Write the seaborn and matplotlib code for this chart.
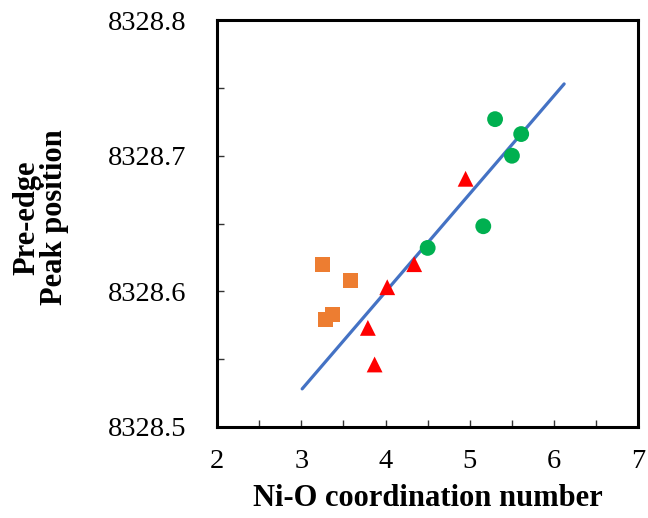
import matplotlib
matplotlib.use("Agg")
import matplotlib.pyplot as plt
import seaborn as sns
from matplotlib.ticker import MultipleLocator

# Dados
x_circulos = [5.30, 5.61, 5.50, 5.16, 4.50]
y_circulos = [8328.727, 8328.716, 8328.700, 8328.648, 8328.632]

x_triangulos = [4.95, 4.34, 4.02, 3.79, 3.87]
y_triangulos = [8328.683, 8328.620, 8328.603, 8328.573, 8328.546]

x_quadrados = [3.25, 3.58, 3.37, 3.29]
y_quadrados = [8328.620, 8328.608, 8328.583, 8328.579]

# Reta de ajuste (extremos)
x_reta = [3.01, 6.12]
y_reta = [8328.528, 8328.753]

sns.set_style("ticks")
plt.rcParams["font.family"] = ["Liberation Serif", "DejaVu Serif"]
plt.rcParams["text.color"] = "black"
plt.rcParams["axes.labelcolor"] = "black"
plt.rcParams["xtick.color"] = "black"
plt.rcParams["ytick.color"] = "black"

fig, ax = plt.subplots(figsize=(6.48, 5.18), dpi=100)
fig.subplots_adjust(left=0.335, right=0.985, top=0.961, bottom=0.176)

sns.lineplot(x=x_reta, y=y_reta, ax=ax, color="#4472C4", linewidth=2.3, zorder=2)
sns.scatterplot(x=x_quadrados, y=y_quadrados, ax=ax, marker="s", s=120,
                color="#ED7D31", edgecolor="none", zorder=3)
sns.scatterplot(x=x_triangulos, y=y_triangulos, ax=ax, marker="^", s=130,
                color="#FF0000", edgecolor="none", zorder=3)
sns.scatterplot(x=x_circulos, y=y_circulos, ax=ax, marker="o", s=130,
                color="#00B050", edgecolor="none", zorder=3)

ax.set_xlim(2, 7)
ax.set_ylim(8328.5, 8328.8)
ax.xaxis.set_major_locator(MultipleLocator(1))
ax.xaxis.set_minor_locator(MultipleLocator(0.5))
ax.yaxis.set_major_locator(MultipleLocator(0.1))
ax.yaxis.set_minor_locator(MultipleLocator(0.05))
ax.yaxis.set_major_formatter(matplotlib.ticker.FormatStrFormatter("%.1f"))

ax.tick_params(axis="both", which="both", direction="in", length=5, width=1,
               color="#333333", labelcolor="black")
ax.tick_params(axis="y", which="major", labelsize=20.5, pad=22)
ax.tick_params(axis="x", which="major", labelsize=20.5, pad=16)

for lado in ax.spines.values():
    lado.set_linewidth(2.2)
    lado.set_color("black")

ax.set_xlabel("Ni-O coordination number", fontsize=22, fontweight="bold", labelpad=7)
ax.set_ylabel("Pre-edge\nPeak position", fontsize=22, fontweight="bold",
              labelpad=28, linespacing=0.95)
ax.yaxis.label.set_y(0.515)

fig.savefig("out.png", dpi=100)
